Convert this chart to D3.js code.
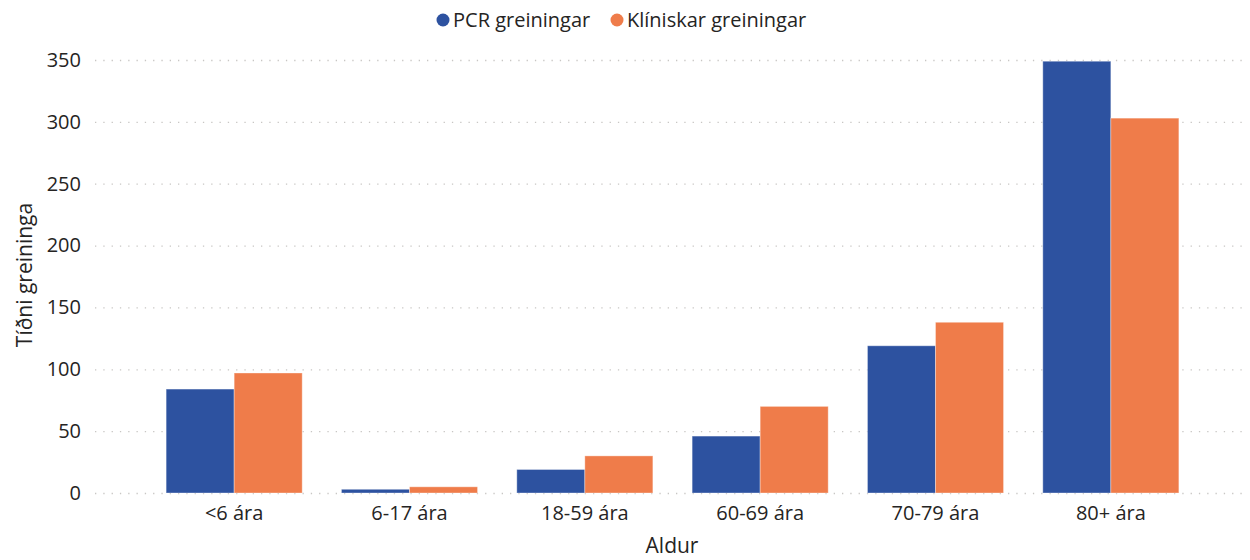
<!DOCTYPE html>
<html>
<head>
<meta charset="utf-8">
<script src="https://cdn.jsdelivr.net/npm/d3@7"></script>
<style>
  body { margin: 0; background: #fff; }
  text { font-family: "Open Sans", "Noto Sans", sans-serif; fill: #252423; }
</style>
</head>
<body>
<script>
const categories = ["<6 ára", "6-17 ára", "18-59 ára", "60-69 ára", "70-79 ára", "80+ ára"],
    seriesNames = ["PCR greiningar", "Klíniskar greiningar"],
    pcrValues = [84, 3, 19, 46, 119, 349],
    clinicalValues = [97, 5, 30, 70, 138, 303],
    yTicks = [0, 50, 100, 150, 200, 250, 300, 350],
    colors = ["#2d52a0", "#ef7c4a"];

const width = 1250,
    height = 560,
    svg = d3.select("body").append("svg")
        .attr("width", width)
        .attr("height", height);

const x = d3.scaleBand()
    .domain(categories)
    .range([146.5, 1198.5])
    .paddingInner(0.224)
    .paddingOuter(0.112);

const xs = d3.scaleBand()
    .domain(seriesNames)
    .range([0, x.bandwidth()]);

const y = d3.scaleLinear()
    .domain([0, 350])
    .range([493, 60]);

// gridlines
svg.append("g")
    .selectAll("line")
    .data(yTicks)
    .join("line")
    .attr("x1", 95)
    .attr("x2", 1245)
    .attr("y1", d => y(d) + 0.5)
    .attr("y2", d => y(d) + 0.5)
    .attr("stroke", "#c8c6c4")
    .attr("stroke-width", 1.3)
    .attr("stroke-dasharray", "1.3,7");

// y axis
const yAxis = svg.append("g")
    .attr("transform", "translate(81,0)")
    .call(d3.axisLeft(y).tickValues(yTicks).tickSize(0).tickPadding(0));
yAxis.select(".domain").remove();
yAxis.selectAll("text")
    .style("font-size", "20px")
    .attr("fill", "#252423");

// x axis
const xAxis = svg.append("g")
    .attr("transform", "translate(0,506)")
    .call(d3.axisBottom(x).tickSize(0).tickPadding(0));
xAxis.select(".domain").remove();
xAxis.selectAll("text")
    .style("font-size", "20px")
    .attr("fill", "#252423");

// bars
const rows = categories.map((c, i) => ({ cat: c, values: [pcrValues[i], clinicalValues[i]] }));

const group = svg.append("g")
    .selectAll("g")
    .data(rows)
    .join("g")
    .attr("transform", d => "translate(" + x(d.cat) + ",0)");

group.selectAll("rect")
    .data(d => d.values.map((v, j) => ({ key: seriesNames[j], value: v, j: j })))
    .join("rect")
    .attr("x", d => xs(d.key))
    .attr("y", d => y(d.value))
    .attr("width", xs.bandwidth())
    .attr("height", d => y(0) - y(d.value))
    .attr("fill", d => colors[d.j])
    .attr("stroke", "rgba(255,255,255,0.35)")
    .attr("stroke-width", 1);

// axis titles
svg.append("text")
    .attr("x", 672)
    .attr("y", 553)
    .attr("text-anchor", "middle")
    .style("font-size", "21px")
    .text("Aldur");

svg.append("text")
    .attr("transform", "translate(32,275) rotate(-90)")
    .attr("text-anchor", "middle")
    .style("font-size", "21px")
    .text("Tíðni greininga");

// legend
const legendX = [443, 617];
const legend = svg.append("g")
    .selectAll("g")
    .data(seriesNames)
    .join("g")
    .attr("transform", (d, i) => "translate(" + legendX[i] + ",20)");

legend.append("circle")
    .attr("r", 6.5)
    .attr("fill", (d, i) => colors[i]);

legend.append("text")
    .attr("x", 10)
    .attr("dy", "0.35em")
    .style("font-size", "20px")
    .text(d => d);
</script>
</body>
</html>
